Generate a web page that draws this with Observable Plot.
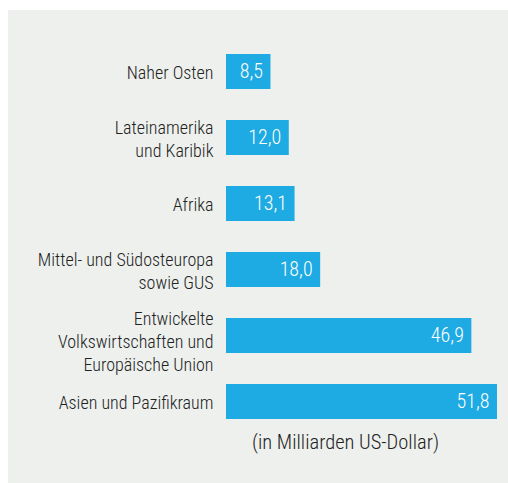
<!DOCTYPE html>
<html>
<head>
<meta charset="utf-8">
<script src="https://cdn.jsdelivr.net/npm/d3@7"></script>
<script src="https://cdn.jsdelivr.net/npm/@observablehq/plot@0.6"></script>
<style>
  html, body { margin: 0; padding: 0; background: #ffffff; }
  #box {
    position: absolute; left: 8px; top: 10px; width: 500px; height: 473px;
    background: #edf0ed; overflow: hidden;
  }
  #box svg { position: absolute; left: 0; top: 0; }
  #box svg text { font-stretch: 75%; }
  #caption {
    position: absolute; left: 244px; top: 419px;
    font-family: "Roboto Condensed", Roboto, sans-serif; font-stretch: 75%;
    font-size: 20.5px; line-height: 26px; color: #222; font-weight: 350;
    white-space: nowrap;
  }
</style>
</head>
<body>
<div id="box"><div id="caption"></div></div>
<script>
const regions = [
  "Naher Osten",
  "Lateinamerika\nund Karibik",
  "Afrika",
  "Mittel- und Südosteuropa\nsowie GUS",
  "Entwickelte\nVolkswirtschaften und\nEuropäische Union",
  "Asien und Pazifikraum"
];
const values = [8.5, 12.0, 13.1, 18.0, 46.9, 51.8];
const captionText = "(in Milliarden US-Dollar)";

const data = regions.map((r, i) => ({region: r, value: values[i], lines: r.split("\n").length}));
const fmt = v => d3.format(".1f")(v).replace(".", ",");
const font = '"Roboto Condensed", Roboto, sans-serif';

const labelOpts = {
  x: 0, y: "region", text: "region", textAnchor: "end", dx: -13,
  fill: "#222", lineHeight: 1.28, fontSize: 18, fontWeight: 350
};

const chart = Plot.plot({
  width: 500,
  height: 430,
  marginLeft: 218,
  marginRight: 11,
  marginTop: 0,
  marginBottom: 0,
  style: {background: "transparent", fontFamily: font, fontSize: "18px", overflow: "visible"},
  x: {domain: [0, 51.8], axis: null},
  y: {domain: regions, range: [42.5, 410.5], paddingInner: 0.474, paddingOuter: 0, axis: null},
  marks: [
    Plot.barX(data, {x: "value", y: "region", fill: "#1eaae2"}),
    Plot.text(data.filter(d => d.lines < 3), labelOpts),
    Plot.text(data.filter(d => d.lines >= 3), {...labelOpts, dy: 5}),
    Plot.text(data, {
      x: "value", y: "region", text: d => fmt(d.value), textAnchor: "end", dx: -8,
      fill: "white", fontSize: 20, fontWeight: 350
    })
  ]
});
document.getElementById("box").appendChild(chart);
document.getElementById("caption").textContent = captionText;
</script>
</body>
</html>
